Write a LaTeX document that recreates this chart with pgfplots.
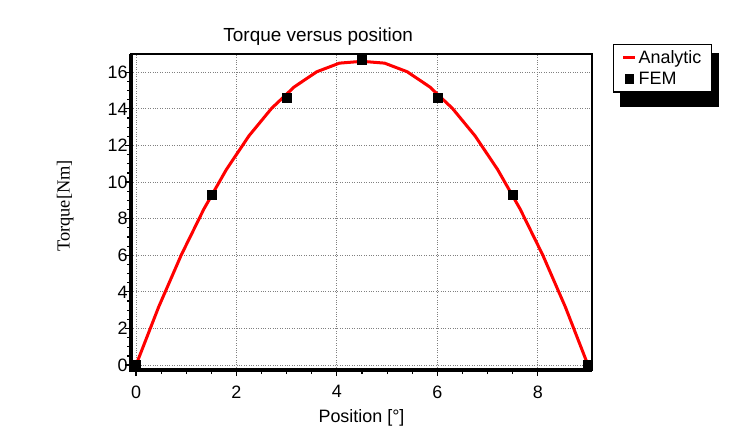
\documentclass[border=0pt]{standalone}
\usepackage{fontspec}
\setmainfont{Liberation Sans}
\newfontfamily\timesfont{Liberation Serif}
\usepackage{pgfplots}
\pgfplotsset{compat=1.18}

\begin{document}
\begin{tikzpicture}
\path[use as bounding box] (0bp,0bp) rectangle (740bp,443bp);
% shadow behind the legend box
\fill[black] (620bp,336bp) rectangle (719bp,390bp);
\begin{axis}[
    at={(131bp,73bp)}, anchor=south west,
    scale only axis, width=461bp, height=316bp,
    xmin=-0.1, xmax=9.08, ymin=-0.27, ymax=17,
    xtick={0,2,...,8}, ytick={0,2,...,16},
    minor x tick num=3, minor y tick num=3,
    tick pos=left, tick align=outside,
    major tick length=6bp, minor tick length=4bp,
    every tick/.style={black, line width=1.2bp},
    grid=major,
    major grid style={gray, line width=0.8bp, dash pattern=on 0.8bp off 1.6bp},
    axis line style={line width=2bp},
    clip=false,
    /pgf/number format/assume math mode=true,
    tick label style={font=\fontsize{18}{20}\selectfont},
    xticklabel style={yshift=-6bp},
    yticklabel style={xshift=6bp},
    title={Torque versus position},
    title style={at={(0.406,1.035)}, anchor=center, font=\fontsize{19}{20}\selectfont},
    xlabel={Position [°]},
    xlabel style={at={(0.5,-0.152)}, anchor=center, font=\fontsize{18}{20}\selectfont},
    ylabel={Torque[Nm]},
    ylabel style={at={(-0.143,0.519)}, anchor=center, font=\fontsize{18.5}{20}\timesfont},
    legend style={at={(1.0456,1.0316)}, anchor=north west, draw=black,
        line width=1.2bp, fill=white,
        font=\fontsize{18}{20}\selectfont, inner xsep=8bp, inner ysep=4bp,
        row sep=3bp},
    legend cell align=left,
]
\draw[line width=4bp] (rel axis cs:0,1) -- (rel axis cs:0,0) -- (rel axis cs:1,0);
\addplot[red, line width=3bp, no marks,
    legend image code/.code={\draw[red, line width=3bp] (0bp,0bp) -- (12bp,0bp);}]
coordinates {
    (0,0) (0.45,3.17) (0.9,6.01) (1.35,8.52) (1.8,10.69) (2.25,12.53)
    (2.7,14.03) (3.15,15.2) (3.6,16.03) (4.05,16.5) (4.5,16.6)
    (4.95,16.5) (5.4,16.03) (5.85,15.2) (6.3,14.03) (6.75,12.53)
    (7.2,10.69) (7.65,8.52) (8.1,6.01) (8.55,3.17) (9,0)
};
\addlegendentry{Analytic}
\addplot[only marks, mark=square*, mark size=4.5bp, black,
    legend image code/.code={\fill[black] (2bp,-4bp) rectangle (10bp,4bp);}]
coordinates {
    (0,0) (1.5,9.3) (3,14.6) (4.5,16.7) (6,14.6) (7.5,9.3) (9,0)
};
\addlegendentry{FEM}
\end{axis}
\end{tikzpicture}
\end{document}
